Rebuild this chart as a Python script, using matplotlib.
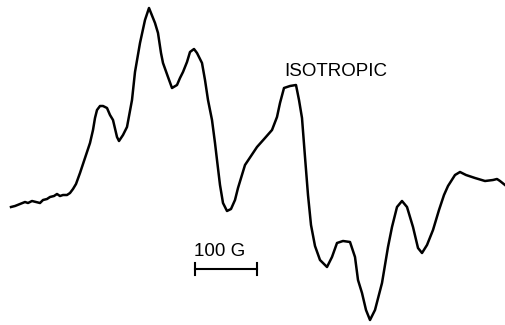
import matplotlib
matplotlib.use("Agg")
import matplotlib.pyplot as plt

# EPR derivative spectrum (arbitrary field units, arbitrary signal units)
field = [11, 15, 20, 25, 28, 32, 36, 40, 43, 47, 50, 54, 57, 60, 63, 67, 70, 73,
         76, 80, 85, 90, 93, 95, 97, 100, 103, 107, 110, 113, 117, 119, 123,
         127, 132, 135, 140, 145, 149, 155, 158, 161, 163, 168, 172, 177, 180,
         183, 187, 190, 194, 197, 202, 205, 208, 212, 215, 217, 220, 223, 227,
         231, 235, 238, 245, 251, 257, 265, 272, 277, 280, 284, 290, 296, 299,
         302, 305, 308, 311, 315, 320, 327, 332, 337, 343, 350, 355, 358, 362,
         366, 370, 375, 382, 388, 392, 397, 402, 407, 413, 418, 422, 427, 433,
         439, 444, 448, 455, 460, 466, 475, 485, 493, 497, 500, 505]
pixel_y = [207, 206, 204, 202, 203, 201, 202, 203, 200, 199, 197, 196, 194, 196,
           195, 195, 193, 189, 184, 173, 158, 143, 130, 118, 110, 106, 106, 108,
           115, 120, 137, 141, 135, 127, 100, 72, 43, 20, 8, 23, 33, 53, 63, 77,
           88, 85, 78, 72, 62, 52, 49, 53, 63, 80, 100, 120, 143, 160, 185, 203,
           211, 209, 200, 188, 165, 156, 147, 138, 130, 117, 103, 88, 86, 85, 100,
           118, 157, 195, 225, 246, 260, 267, 257, 243, 241, 242, 257, 280, 293,
           310, 320, 310, 283, 247, 227, 207, 201, 207, 227, 248, 253, 245, 230,
           210, 195, 186, 175, 172, 175, 178, 181, 180, 179, 181, 185]
signal = [325 - v for v in pixel_y]

label_iso = "ISOTROPIC"
label_bar = "100 G"
bar_start, bar_end = 195, 257

fig = plt.figure(figsize=(5.06, 3.25), dpi=100)
ax = fig.add_axes([0, 0, 1, 1])
ax.set_xlim(0, 506)
ax.set_ylim(0, 325)
ax.axis("off")

ax.plot(field, signal, color="black", lw=1.8, solid_joinstyle="round")

# scale bar
yb = 325 - 269
ax.plot([bar_start, bar_end], [yb, yb], color="black", lw=1.5)
ax.plot([bar_start, bar_start], [yb - 6, yb + 6], color="black", lw=1.5)
ax.plot([bar_end, bar_end], [yb - 6, yb + 6], color="black", lw=1.5)
ax.text(194, 325 - 252, label_bar, ha="left", va="center", fontsize=13.5,
        family="Liberation Sans")
ax.text(284, 325 - 71, label_iso, ha="left", va="center", fontsize=13.5,
        family="Liberation Sans")

fig.savefig("out.png", dpi=100)
